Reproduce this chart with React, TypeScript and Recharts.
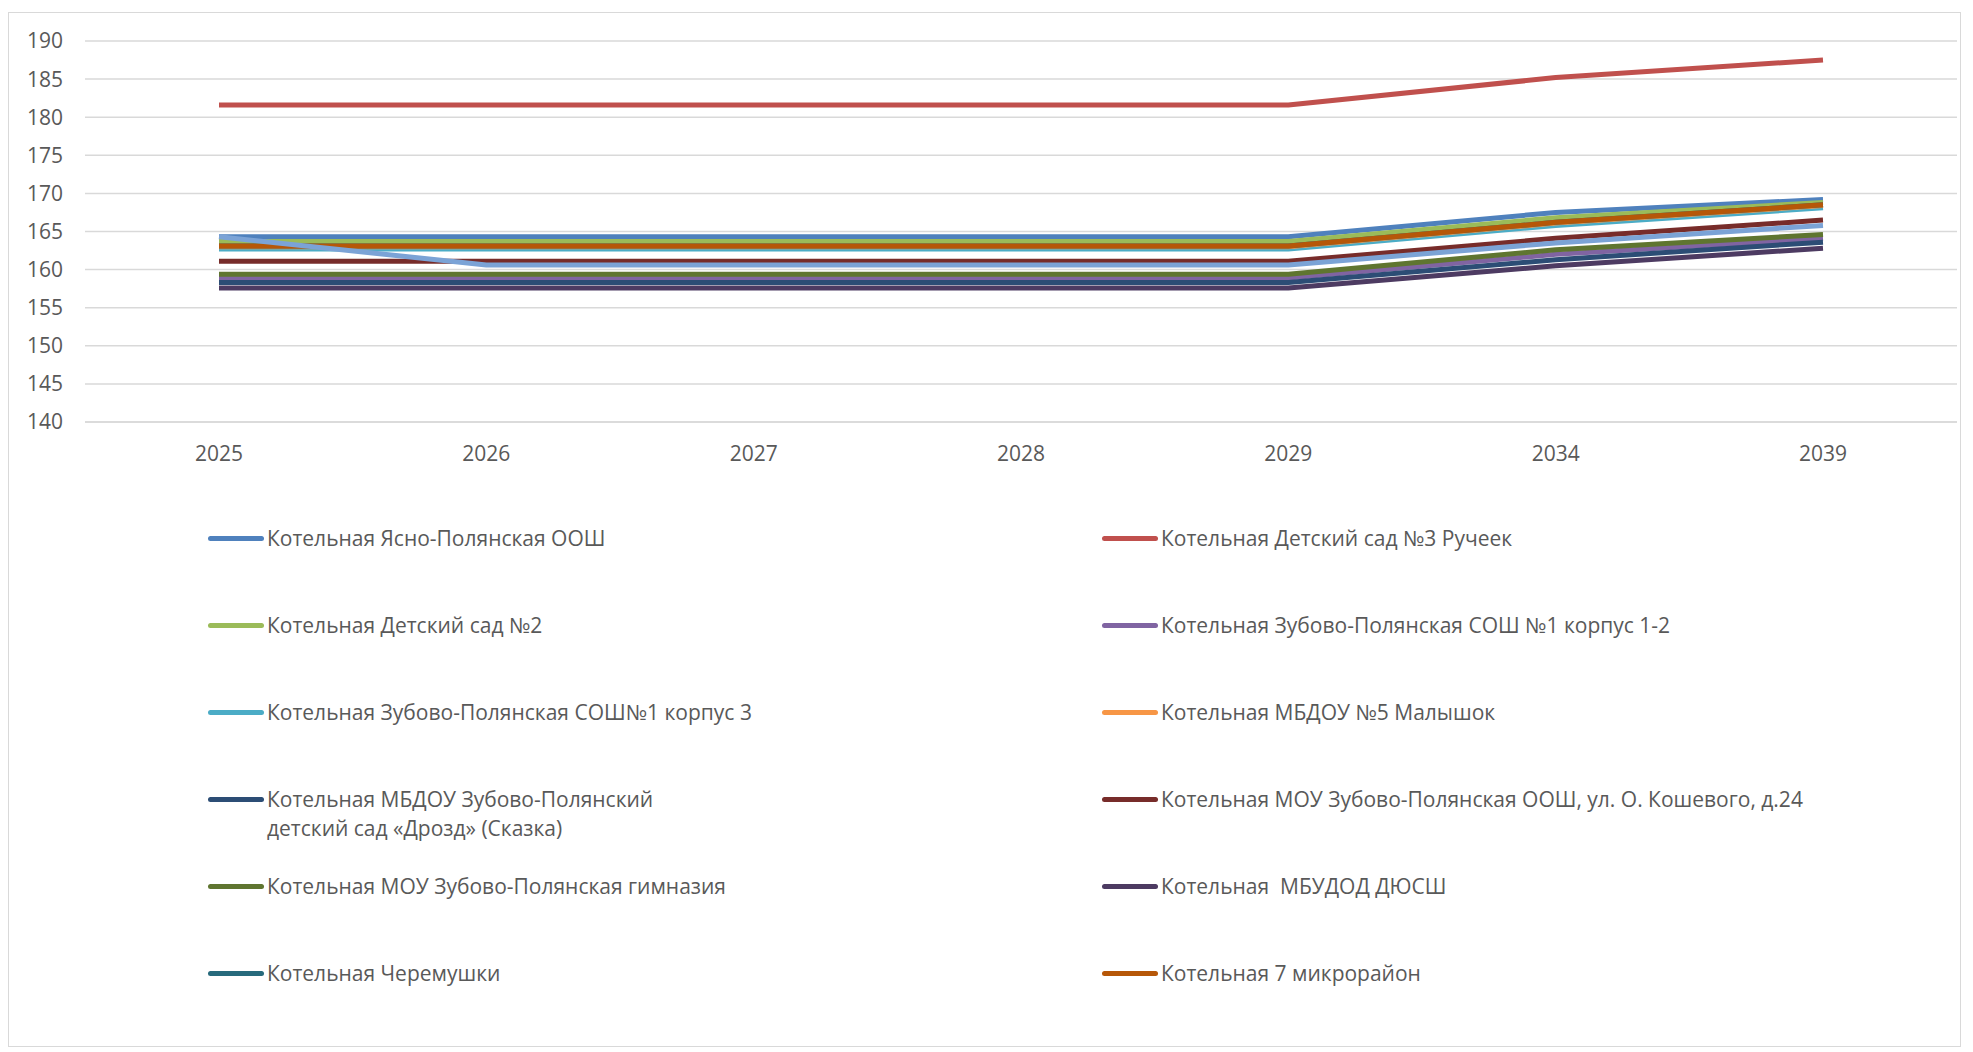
import { LineChart, Line, XAxis, YAxis, CartesianGrid, Legend } from 'recharts'

const years = ['2025', '2026', '2027', '2028', '2029', '2034', '2039']
const yTicks = [140, 145, 150, 155, 160, 165, 170, 175, 180, 185, 190]

const yasnoPolyana = [164.3, 164.3, 164.3, 164.3, 164.3, 167.5, 169.2]
const rucheek = [181.6, 181.6, 181.6, 181.6, 181.6, 185.2, 187.5]
const sad2 = [163.7, 163.7, 163.7, 163.7, 163.7, 166.8, 168.8]
const sosh1k12 = [158.9, 158.9, 158.9, 158.9, 158.9, 162.0, 164.1]
const sosh1k3 = [162.7, 162.7, 162.7, 162.7, 162.7, 165.8, 168.1]
const malyshok = [163.0, 163.0, 163.0, 163.0, 163.0, 166.1, 168.4]
const drozd = [158.3, 158.3, 158.3, 158.3, 158.3, 161.3, 163.6]
const koshevogo = [161.1, 161.1, 161.1, 161.1, 161.1, 164.1, 166.5]
const gimnaziya = [159.4, 159.4, 159.4, 159.4, 159.4, 162.6, 164.6]
const dyussh = [157.6, 157.6, 157.6, 157.6, 157.6, 160.5, 162.8]
const cheremushki = [163.1, 163.1, 163.1, 163.1, 163.1, 166.2, 168.5]
const mikrorayon7 = [163.1, 163.1, 163.1, 163.1, 163.1, 166.2, 168.5]
const extra = [164.3, 160.6, 160.6, 160.6, 160.6, 163.5, 165.8]

const series = [
  { key: 's1', name: 'Котельная Ясно-Полянская ООШ', values: yasnoPolyana, color: '#4f81bd' },
  { key: 's2', name: 'Котельная Детский сад №3 Ручеек', values: rucheek, color: '#c0504d' },
  { key: 's3', name: 'Котельная Детский сад №2', values: sad2, color: '#9bbb59' },
  { key: 's4', name: 'Котельная Зубово-Полянская СОШ №1 корпус 1-2', values: sosh1k12, color: '#8064a2' },
  { key: 's5', name: 'Котельная Зубово-Полянская СОШ№1 корпус 3', values: sosh1k3, color: '#4bacc6' },
  { key: 's6', name: 'Котельная МБДОУ №5 Малышок', values: malyshok, color: '#f79646' },
  { key: 's7', name: 'Котельная МБДОУ Зубово-Полянский детский сад «Дрозд» (Сказка)', values: drozd, color: '#2c4d75' },
  { key: 's8', name: 'Котельная МОУ Зубово-Полянская ООШ, ул. О. Кошевого, д.24', values: koshevogo, color: '#772c2a' },
  { key: 's9', name: 'Котельная МОУ Зубово-Полянская гимназия', values: gimnaziya, color: '#5f7530' },
  { key: 's10', name: 'Котельная  МБУДОД ДЮСШ', values: dyussh, color: '#4d3b62' },
  { key: 's11', name: 'Котельная Черемушки', values: cheremushki, color: '#276a7c' },
  { key: 's12', name: 'Котельная 7 микрорайон', values: mikrorayon7, color: '#b65708' },
  { key: 's13', name: '', values: extra, color: '#7ba3d6' },
]

const data = years.map((year, i) => {
  const row: Record<string, string | number> = { year }
  series.forEach((s) => {
    row[s.key] = s.values[i]
  })
  return row
})

const FONT = '"Open Sans", "Noto Sans", sans-serif'
const order = series.map((s) => s.name)
// the long kindergarten entry wraps after "Зубово-Полянский" in the original
const wrapWidth: Record<string, number> = { s7: 420 }

function renderLegend(props: any) {
  const items = (props.payload || [])
    .filter((p: any) => p.type !== 'none' && p.value)
    .sort((a: any, b: any) => order.indexOf(a.value) - order.indexOf(b.value))
  return (
    <div style={{ position: 'relative', width: 1951, height: 500, fontFamily: FONT }}>
      {items.map((item: any, i: number) => {
        const col = i % 2
        const row = Math.floor(i / 2)
        return (
          <div
            key={item.value}
            style={{
              position: 'absolute',
              left: col === 0 ? 199 : 1093,
              top: row * 87,
              display: 'flex',
              alignItems: 'flex-start',
            }}
          >
            <span
              style={{
                display: 'inline-block',
                flex: 'none',
                width: 56,
                height: 5,
                borderRadius: 3,
                marginTop: 12,
                marginRight: 3,
                background: item.color,
              }}
            />
            <span
              style={{
                maxWidth: wrapWidth[item.dataKey] || 800,
                fontSize: 21,
                lineHeight: '29px',
                color: '#595959',
                whiteSpace: 'pre-wrap',
              }}
            >
              {item.value}
            </span>
          </div>
        )
      })}
    </div>
  )
}

export default function App() {
  return (
    <div
      style={{
        position: 'absolute',
        left: 8,
        top: 12,
        width: 1951,
        height: 1033,
        border: '1px solid #d9d9d9',
        background: '#fff',
      }}
    >
      <LineChart
        width={1951}
        height={1033}
        data={data}
        margin={{ top: 28, right: 3, bottom: 584, left: 0 }}
        style={{ fontFamily: FONT }}
      >
        <CartesianGrid vertical={false} stroke="#d9d9d9" strokeWidth={1.5} />
        <XAxis
          dataKey="year"
          padding={{ left: 134, right: 134 }}
          axisLine={{ stroke: '#d9d9d9', strokeWidth: 1.5 }}
          tickLine={false}
          tickSize={0}
          tickMargin={24}
          height={40}
          tick={{ fill: '#595959', fontSize: 21 }}
        />
        <YAxis
          domain={[140, 190]}
          ticks={yTicks}
          axisLine={false}
          tickLine={false}
          tickSize={0}
          tickMargin={22}
          width={76}
          tick={{ fill: '#595959', fontSize: 21 }}
        />
        <Legend
          layout="vertical"
          align="center"
          verticalAlign="middle"
          content={renderLegend}
          wrapperStyle={{ left: 0, top: 511, width: 1951 }}
        />
        {series.map((s) => (
          <Line
            key={s.key}
            type="linear"
            dataKey={s.key}
            name={s.name}
            stroke={s.color}
            strokeWidth={5}
            strokeLinejoin="round"
            dot={false}
            activeDot={false}
            legendType={s.name ? 'line' : 'none'}
            isAnimationActive={false}
          />
        ))}
      </LineChart>
    </div>
  )
}
